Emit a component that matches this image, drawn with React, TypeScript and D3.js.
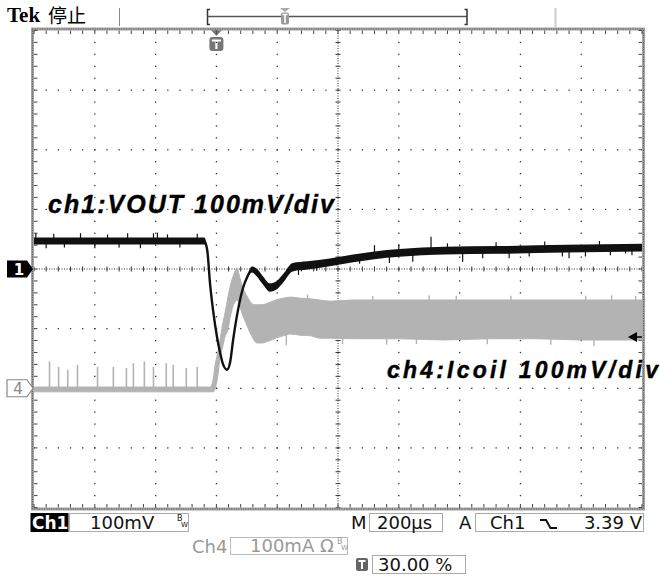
import React from "react";
import * as d3 from "d3";

// ---- scope settings ----
const timeDomain = [-600, 1400]; // µs relative to trigger, 200 µs/div
const ch1Domain = [-400, 400]; // mV, 100 mV/div (ch1 marker = 0)
const ch4Domain = [-200, 600]; // mA, 100 mA/div (ch4 marker = 0)

// ---- ch1: VOUT (center value, noise half-width) ----
const ch1Time = [-600, -40, -30, -21, -11, 2, 12, 22, 35, 45, 55, 71, 88, 101, 117, 133, 153, 176, 199, 219, 251, 300, 373, 450, 520, 602, 750, 930, 1150, 1400];
const ch1Volt = [47, 47, 31, -24, -69, -114, -140, -160, -169, -157, -119, -69, -31, -14, -1, -6, -19, -31, -27, -16, 3, 6, 11, 18, 23, 27, 31, 32, 34, 36];
const ch1Noise = [6, 6, 3, 1.2, 1.2, 1.2, 1.2, 1.2, 1.2, 1.2, 1.2, 1.2, 1.5, 3, 5, 6.5, 7, 7, 7, 7, 7, 7, 6.5, 6.5, 6.5, 6.5, 6.5, 6.5, 6.5, 6.5];
const ch1SpikeTime = [-594, -560, -535, -500, -447, -400, -358, -320, -292, -250, -207, -194, -161, -120, -63, 270, 330, 395, 471, 520, 569, 600, 646, 706, 760, 810, 876, 920, 963, 1029, 1080, 1138, 1160, 1214, 1260, 1296, 1346, 1367];
const ch1SpikeTip = [60, 35, 59, 36, 60, 35, 58, 36, 60, 35, 60, 61, 58, 36, 59, -10, -3, 6, 9, 40, 10, 41, 12, 54, 43, 12, 18, 45, 18, 21, 46, 21, 18, 21, 47, 23, 26, 23];

// ---- ch4: Icoil (ripple envelope) ----
const ch4Time = [-600, -20, -10, -4, 5, 12, 20, 29, 38, 45, 55, 62, 68, 75, 81, 90, 100, 110, 120, 133, 150, 170, 195, 220, 245, 275, 310, 340, 375, 450, 600, 750, 900, 1050, 1200, 1400];
const ch4Upper = [2, 2, 17, 39, 61, 81, 106, 128, 153, 170, 188, 197, 202, 190, 178, 165, 155, 146, 141, 140, 140, 143, 148, 151, 153, 151, 150, 148, 146, 148, 148, 148, 148, 148, 148, 148];
const ch4Lower = [-6, -6, -6, 0, 22, 52, 68, 88, 98, 118, 138, 145, 148, 141, 131, 118, 106, 94, 84, 76, 76, 79, 84, 88, 91, 89, 88, 84, 84, 83, 83, 81, 83, 83, 81, 81];
const ch4SpikeTime = [-549, -519, -489, -457, -391, -339, -296, -273, -237, -207, -165, -142, -99, -63];
const ch4SpikePeak = [45, 36, 31, 39, 36, 36, 34, 42, 45, 36, 42, 39, 34, 36];
const ch4EdgeSpikeTime = [230, 300, 415, 514, 560, 658, 700, 789, 891, 969, 1100, 1215, 1242, 1300, 1379];
const ch4EdgeSpikeTip = [72, 157, 74, 155, 73, 74, 156, 155, 74, 155, 73, 155, 71, 156, 155];

// ---- labels ----
const headerBrand = "Tek";
const headerState = "停止";
const ch1Label = "ch1:VOUT 100mV/div";
const ch4Label = "ch4:Icoil 100mV/div";
const ch1Scale = "100mV";
const ch4Scale = "100mA Ω";
const timeScale = "200µs";
const trigSource = "Ch1";
const trigLevel = "3.39 V";
const trigPos = "30.00 %";

const FONT = "DejaVu Sans";

export default function App() {
  const X0 = 34, X1 = 642, Y0 = 30.5, Y1 = 507.5;
  const x = d3.scaleLinear().domain(timeDomain).range([X0, X1]);
  const yDiv = d3.scaleLinear().domain([-4, 4]).range([Y1, Y0]);
  const y1 = d3.scaleLinear().domain(ch1Domain).range([Y1, Y0]);
  const y4 = d3.scaleLinear().domain(ch4Domain).range([Y1, Y0]);
  const ch1At = d3.scaleLinear().domain(ch1Time).range(ch1Volt);
  const ch4UpAt = d3.scaleLinear().domain(ch4Time).range(ch4Upper);
  const ch4LoAt = d3.scaleLinear().domain(ch4Time).range(ch4Lower);

  const ch1Pts = ch1Time.map((t, i) => ({ t, v: ch1Volt[i], n: ch1Noise[i] }));
  const ch1Area = d3.area<any>().x((d) => x(d.t)).y0((d) => y1(d.v - d.n)).y1((d) => y1(d.v + d.n)).curve(d3.curveMonotoneX);
  const ch1Line = d3.line<any>().x((d) => x(d.t)).y((d) => y1(d.v)).curve(d3.curveMonotoneX);
  const ch4Pts = ch4Time.map((t, i) => ({ t, u: ch4Upper[i], l: ch4Lower[i] }));
  const ch4Area = d3.area<any>().x((d) => x(d.t)).y0((d) => y4(d.l)).y1((d) => y4(d.u)).curve(d3.curveMonotoneX);

  // grid
  const divsX = d3.range(1, 10);
  const divsY = d3.range(-3, 4);
  const dots: any[] = [];
  const minorT = d3.range(timeDomain[0], timeDomain[1] + 1, 40);
  const minorY = d3.range(-4, 4.001, 0.2);
  divsX.forEach((i) => {
    if (i === 5) return;
    const xx = x(timeDomain[0] + i * 200);
    minorY.forEach((dv, k) => {
      dots.push(<rect key={`v${i}-${k}`} x={xx - 0.6} y={yDiv(dv) - 0.6} width={1.3} height={1.3} fill="#333" />);
    });
  });
  divsY.forEach((j) => {
    if (j === 0) return;
    const yy = yDiv(j);
    minorT.forEach((t, k) => {
      dots.push(<rect key={`h${j}-${k}`} x={x(t) - 0.6} y={yy - 0.6} width={1.3} height={1.3} fill="#333" />);
    });
  });
  const xc = x(400);
  const yc = yDiv(0);

  const pentagon = (yy: number) => `M7,${yy - 8.5} H27 L33,${yy} L27,${yy + 8.5} H7 Z`;
  const ch1Mark = y1(0);
  const ch4Mark = y4(0);
  const trigX = x(0);

  return (
    <svg width={660} height={578} style={{ position: "absolute", left: 0, top: 0, background: "#fff" }}>
      <rect x={0} y={0} width={660} height={578} fill="#fff" />
      {/* header */}
      <text x={7} y={22} fontFamily="Liberation Serif" fontWeight="bold" fontSize={21} fill="#000">{headerBrand}</text>
      <text x={48} y={23} fontFamily="Noto Sans CJK SC" fontSize={19} fill="#000">{headerState}</text>
      <line x1={119.5} y1={8} x2={119.5} y2={26} stroke="#888" />
      <line x1={555.5} y1={8} x2={555.5} y2={27} stroke="#ccc" strokeWidth={2} />
      <path d="M210,9.5 H207.5 V24.5 H210" stroke="#333" strokeWidth={1.5} fill="none" />
      <line x1={207.5} y1={16.5} x2={467} y2={16.5} stroke="#555" strokeWidth={1.5} />
      <path d="M464.5,9.5 H467 V24.5 H464.5" stroke="#333" strokeWidth={1.5} fill="none" />
      <path d="M280,8 H290 L285,12 Z" fill="#aaa" />
      <rect x={281} y={12.5} width={8} height={12} rx={2} fill="#999" />
      <path d="M282.5,14.5 H287.5 M285,14.5 V23" stroke="#fff" strokeWidth={1.6} />

      {/* trigger position marker */}
      <path d={`M${trigX - 6.5},29 H${trigX + 6.5} L${trigX},36 Z`} fill="#777" />
      <rect x={trigX - 7} y={37} width={14} height={14} rx={3} fill="#777" />
      <path d={`M${trigX - 4.5},40.5 H${trigX + 4.5} M${trigX},40.5 V49`} stroke="#fff" strokeWidth={2.2} />

      {/* grid */}
      {dots}
      <line x1={X0} y1={yc} x2={X1} y2={yc} stroke="#333" strokeWidth={1} strokeDasharray="1 1.5" />
      <line x1={xc} y1={Y0} x2={xc} y2={Y1} stroke="#333" strokeWidth={1} strokeDasharray="1 1.5" />
      {minorT.map((t, k) => (
        <line key={`ct${k}`} x1={x(t)} y1={yc - 2.5} x2={x(t)} y2={yc + 2.5} stroke="#333" />
      ))}
      {minorY.map((dv, k) => (
        <line key={`cv${k}`} x1={xc - 2.5} y1={yDiv(dv)} x2={xc + 2.5} y2={yDiv(dv)} stroke="#333" />
      ))}
      {/* frame */}
      <rect x={X0 - 1.5} y={Y0 - 1.5} width={X1 - X0 + 3} height={Y1 - Y0 + 3} fill="none" stroke="#a3a3a3" strokeWidth={3} />
      <rect x={X0 - 1.5} y={Y0 - 1.5} width={X1 - X0 + 3} height={Y1 - Y0 + 3} fill="none" stroke="#555" strokeWidth={1} strokeDasharray="1 1.4" />
      {minorT.map((t, k) => (
        <g key={`ft${k}`}>
          <line x1={x(t)} y1={Y0} x2={x(t)} y2={Y0 + 3.5} stroke="#444" />
          <line x1={x(t)} y1={Y1} x2={x(t)} y2={Y1 - 3.5} stroke="#444" />
        </g>
      ))}
      {minorY.map((dv, k) => (
        <g key={`fv${k}`}>
          <line x1={X0} y1={yDiv(dv)} x2={X0 + 3.5} y2={yDiv(dv)} stroke="#444" />
          <line x1={X1} y1={yDiv(dv)} x2={X1 - 3.5} y2={yDiv(dv)} stroke="#444" />
        </g>
      ))}

      {/* labels in plot */}
      <text x={48} y={213} fontFamily="Liberation Sans" fontWeight="bold" fontStyle="italic" fontSize={25} textLength={286} lengthAdjust="spacing" fill="#000" stroke="#000" strokeWidth={0.4}>{ch1Label}</text>
      <text x={387} y={378} fontFamily="Liberation Sans" fontWeight="bold" fontStyle="italic" fontSize={23} textLength={271} lengthAdjust="spacing" fill="#000" stroke="#000" strokeWidth={0.4}>{ch4Label}</text>

      {/* ch4 trace */}
      <path d={ch4Area(ch4Pts) || ""} fill="#b3b3b3" stroke="#b3b3b3" strokeWidth={1} />
      {ch4SpikeTime.map((t, i) => (
        <line key={`s4${i}`} x1={x(t)} y1={y4(0)} x2={x(t)} y2={y4(ch4SpikePeak[i])} stroke="#b3b3b3" strokeWidth={1.6} />
      ))}
      {ch4EdgeSpikeTime.map((t, i) => (
        <line key={`e4${i}`} x1={x(t)} y1={y4((ch4UpAt(t) + ch4LoAt(t)) / 2)} x2={x(t)} y2={y4(ch4EdgeSpikeTip[i])} stroke="#b3b3b3" strokeWidth={1.4} />
      ))}

      {/* ch1 trace */}
      <path d={ch1Area(ch1Pts) || ""} fill="#111" />
      <path d={ch1Line(ch1Pts) || ""} fill="none" stroke="#111" strokeWidth={2.4} />
      {ch1SpikeTime.map((t, i) => (
        <line key={`s1${i}`} x1={x(t)} y1={y1(ch1At(t))} x2={x(t)} y2={y1(ch1SpikeTip[i])} stroke="#111" strokeWidth={1.2} />
      ))}

      {/* channel markers */}
      <path d={pentagon(ch1Mark)} fill="#000" />
      <text x={19} y={ch1Mark + 5.5} textAnchor="middle" fontFamily={FONT} fontWeight="bold" fontSize={15} fill="#fff">1</text>
      <path d={pentagon(ch4Mark)} fill="#fff" stroke="#888" strokeWidth={1.2} />
      <text x={18} y={ch4Mark + 5.5} textAnchor="middle" fontFamily={FONT} fontSize={15} fill="#888">4</text>
      {/* trigger level arrow */}
      <path d="M628,337 L637,332 V342 Z" fill="#000" />
      <line x1={636} y1={337} x2={642} y2={337} stroke="#000" strokeWidth={1.5} />

      {/* status bar row 1 */}
      <rect x={30.5} y={513} width={38} height={19} fill="#000" />
      <text x={32} y={529} fontFamily={FONT} fontWeight="bold" fontSize={17} fill="#fff">Ch1</text>
      <rect x={69.5} y={513.5} width={119} height={18} fill="none" stroke="#aaa" />
      <text x={90} y={529} fontFamily={FONT} fontSize={18} fill="#111">{ch1Scale}</text>
      <text x={177} y={521} fontFamily={FONT} fontSize={8} fill="#111">B</text>
      <text x={181} y={527} fontFamily={FONT} fontSize={7} fill="#111">W</text>
      <text x={351} y={529} fontFamily={FONT} fontSize={18} fill="#111">M</text>
      <rect x={369.5} y={513.5} width={73} height={18} fill="none" stroke="#aaa" />
      <text x={377} y={529} fontFamily={FONT} fontSize={18} fill="#111">{timeScale}</text>
      <text x={459} y={529} fontFamily={FONT} fontSize={18} fill="#111">A</text>
      <rect x={475.5} y={513.5} width={168} height={18} fill="none" stroke="#aaa" />
      <text x={490} y={529} fontFamily={FONT} fontSize={18} fill="#111">{trigSource}</text>
      <path d="M540,520 H546 L550.5,528 H557" fill="none" stroke="#111" strokeWidth={2} />
      <text x={642} y={529} textAnchor="end" fontFamily={FONT} fontSize={18} fill="#111">{trigLevel}</text>

      {/* row 2 */}
      <text x={192} y={553} fontFamily={FONT} fontSize={18} fill="#999">Ch4</text>
      <rect x={230.5} y={537.5} width={117} height={17} fill="none" stroke="#bbb" />
      <text x={250} y={552} fontFamily={FONT} fontSize={18} fill="#999">{ch4Scale}</text>
      <text x={337} y={544} fontFamily={FONT} fontSize={8} fill="#999">B</text>
      <text x={341} y={550} fontFamily={FONT} fontSize={7} fill="#999">W</text>

      {/* row 3 */}
      <rect x={356} y={558} width={12} height={13} rx={2} fill="#666" />
      <path d="M358.5,561 H365.5 M362,561 V569" stroke="#fff" strokeWidth={2} />
      <rect x={372.5} y={555.5} width={93} height={18} fill="none" stroke="#aaa" />
      <text x={378} y={571} fontFamily={FONT} fontSize={18} fill="#111">{trigPos}</text>
    </svg>
  );
}
